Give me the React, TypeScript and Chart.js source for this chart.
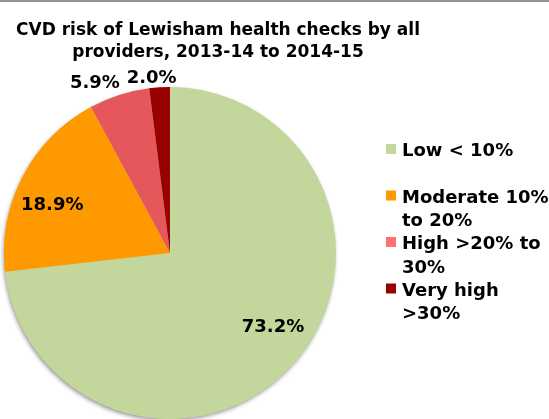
import React, { useEffect, useRef } from "react";
import { Chart, registerables } from "chart.js";

Chart.register(...registerables);

const titleLines = ["CVD risk of Lewisham health checks by all", "providers, 2013-14 to 2014-15"];
const categories = ["Low < 10%", "Moderate 10% to 20%", "High >20% to 30%", "Very high >30%"];
const legendLines = [["Low < 10%"], ["Moderate 10%", "to 20%"], ["High >20% to", "30%"], ["Very high", ">30%"]];
const values = [73.2, 18.9, 5.9, 2.0];
const sliceColors = ["#C3D69B", "#FF9900", "#E5575A", "#990000"];
const swatchColors = ["#C3D69B", "#FF9900", "#FF7171", "#990000"];
// label placement relative to slice geometry: [angle offset (deg), radius factor]
const labelPlacement = [[-6, 0.765], [-5.5, 0.765], [-6, 1.12], [-2.4, 1.06]];

const FONT = "'DejaVu Sans', Verdana, sans-serif";

const decorPlugin = {
  id: "decor",
  beforeDraw(chart: any) {
    const ctx = chart.ctx;
    ctx.save();
    ctx.fillStyle = "#ffffff";
    ctx.fillRect(0, 0, chart.width, chart.height);
    ctx.fillStyle = "#939393";
    ctx.fillRect(0, 0, chart.width, 2);
    ctx.restore();
  },
  beforeDatasetsDraw(chart: any) {
    const arc = chart.getDatasetMeta(0).data[0];
    if (!arc) return;
    const ctx = chart.ctx;
    ctx.save();
    ctx.shadowColor = "rgba(0,0,0,0.45)";
    ctx.shadowBlur = 4;
    ctx.shadowOffsetX = -1;
    ctx.shadowOffsetY = 2;
    ctx.fillStyle = sliceColors[0];
    ctx.beginPath();
    ctx.arc(arc.x, arc.y, arc.outerRadius - 0.5, 0, Math.PI * 2);
    ctx.fill();
    ctx.restore();
  },
  afterDatasetsDraw(chart: any) {
    const ctx = chart.ctx;
    const meta = chart.getDatasetMeta(0);
    ctx.save();
    // slice labels
    ctx.fillStyle = "#000000";
    ctx.font = `bold 18px ${FONT}`;
    ctx.textAlign = "center";
    ctx.textBaseline = "middle";
    meta.data.forEach((a: any, i: number) => {
      const mid = (a.startAngle + a.endAngle) / 2 + (labelPlacement[i][0] * Math.PI) / 180;
      const r = a.outerRadius * labelPlacement[i][1];
      const x = a.x + Math.cos(mid) * r;
      const y = a.y + Math.sin(mid) * r;
      ctx.fillText(values[i].toFixed(1) + "%", x, y);
    });
    // title
    ctx.font = `bold 17px ${FONT}`;
    ctx.textBaseline = "alphabetic";
    const tcx = 218;
    titleLines.forEach((t, i) => ctx.fillText(t, tcx, 35 + i * 21.5));
    // legend
    ctx.textAlign = "left";
    ctx.font = `bold 18px ${FONT}`;
    legendLines.forEach((lines, i) => {
      const top = 143 + i * 46.5;
      ctx.fillStyle = swatchColors[i];
      ctx.fillRect(386, top + 1, 10, 10);
      ctx.fillStyle = "#000000";
      lines.forEach((ln, j) => ctx.fillText(ln, 402, top + 13 + j * 23.5));
    });
    ctx.restore();
  },
};

export default function App() {
  const ref = useRef<HTMLCanvasElement>(null);
  useEffect(() => {
    if (!ref.current) return;
    const chart = new Chart(ref.current, {
      type: "pie",
      data: {
        labels: categories,
        datasets: [
          {
            data: values,
            backgroundColor: sliceColors,
            borderWidth: 0,
          },
        ],
      },
      options: {
        responsive: false,
        animation: false,
        layout: { padding: { left: 4, right: 213, top: 87, bottom: 0 } },
        plugins: {
          legend: { display: false },
          title: { display: false },
          tooltip: { enabled: false },
        },
      },
      plugins: [decorPlugin],
    });
    return () => chart.destroy();
  }, []);
  return (
    <div style={{ position: "absolute", left: 0, top: 0, width: 549, height: 419 }}>
      <canvas ref={ref} width={549} height={419} style={{ display: "block" }} />
    </div>
  );
}
